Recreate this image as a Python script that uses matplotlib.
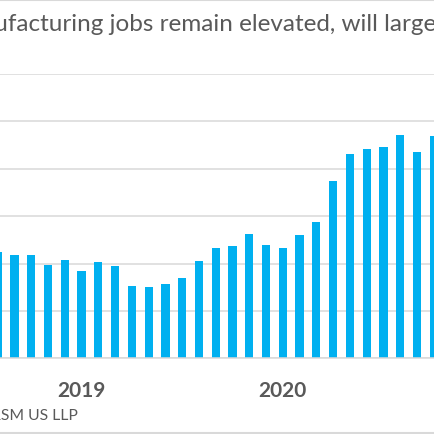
import matplotlib
matplotlib.use("Agg")
import matplotlib.pyplot as plt
import matplotlib.transforms as mtransforms
from matplotlib.lines import Line2D

# Dados (milhares), primeira e última barra parcialmente cortadas
periodos = list(range(-1, 26))
valores = [524, 517, 517, 497, 507, 484, 503, 495, 453, 450, 456, 469, 506,
           533, 537, 563, 540, 532, 560, 588, 674, 732, 742, 746, 772, 736, 770]
anos_pos = [4, 16]
anos_txt = ["2019", "2020"]

titulo = "Manufacturing jobs remain elevated, will largely persist"
prefixo_cortado = "Man"
trecho_visivel = "ufacturing jobs remain elevated, will large"
fonte = "Source: Bureau of Labor Statistics, RSM US LLP"

AZUL = "#00B0F0"
CINZA_GRADE = "#D9D9D9"
CINZA_TEXTO = "#595959"

plt.rcParams['font.family'] = ['Lato', 'DejaVu Sans']

W = H = 435
fig = plt.figure(figsize=(W / 100, H / 100), dpi=100)
fig.patch.set_facecolor("white")

# eixo: x em pixels 0..435, y de 359.3 (base) a 75 (topo)
base_px, topo_px = 359.3, 75.0
ax = fig.add_axes([0, (H - base_px) / H, 1, (base_px - topo_px) / H])
passo = 16.77
x0 = 14.5
ax.set_xlim(-x0 / passo, (W - x0) / passo)
ax.set_ylim(300, 900)

ax.bar(periodos, [v - 300 for v in valores], bottom=300, width=0.49,
       color=AZUL, linewidth=0, zorder=3)

ax.set_yticks(range(300, 901, 100))
ax.grid(axis='y', color=CINZA_GRADE, linewidth=1.1)
ax.set_axisbelow(True)
for s in ['top', 'right', 'left']:
    ax.spines[s].set_visible(False)
ax.spines['bottom'].set_color(CINZA_GRADE)
ax.spines['bottom'].set_linewidth(1.1)
ax.spines['bottom'].set_zorder(4)
ax.tick_params(left=False, bottom=False, labelleft=False, labelbottom=False)

# rótulos dos anos
trans = mtransforms.blended_transform_factory(ax.transData, fig.transFigure)
for p, t in zip(anos_pos, anos_txt):
    ax.text(p, (H - 396.7) / H, t, transform=trans, ha='center', va='baseline',
            fontsize=15, fontweight='bold', color=CINZA_TEXTO)

# título (cortado à esquerda, como no original) - ajusta tamanho pela largura visível
fig.canvas.draw()
renderer = fig.canvas.get_renderer()
tmp = fig.text(0, 0, trecho_visivel, fontsize=16)
tam_titulo = 16 * 443 / tmp.get_window_extent(renderer).width
tmp.remove()
tmp = fig.text(0, 0, prefixo_cortado, fontsize=tam_titulo)
larg_prefixo = tmp.get_window_extent(renderer).width
tmp.remove()
fig.text((-6 - larg_prefixo) / W, (H - 31) / H, titulo, ha='left', va='baseline',
         fontsize=tam_titulo, color=CINZA_TEXTO)

# fonte
fig.text(78.3 / W, (H - 420) / H, fonte, ha='right', va='baseline',
         fontsize=11.3, color=CINZA_TEXTO)

# bordas do quadro
fig.add_artist(Line2D([0, 1], [1 - 1 / H, 1 - 1 / H], transform=fig.transFigure,
                      color=CINZA_GRADE, linewidth=1.5))
fig.add_artist(Line2D([0, 1], [1 / H, 1 / H], transform=fig.transFigure,
                      color=CINZA_GRADE, linewidth=1.5))

fig.savefig("out.png", dpi=100, facecolor="white")
